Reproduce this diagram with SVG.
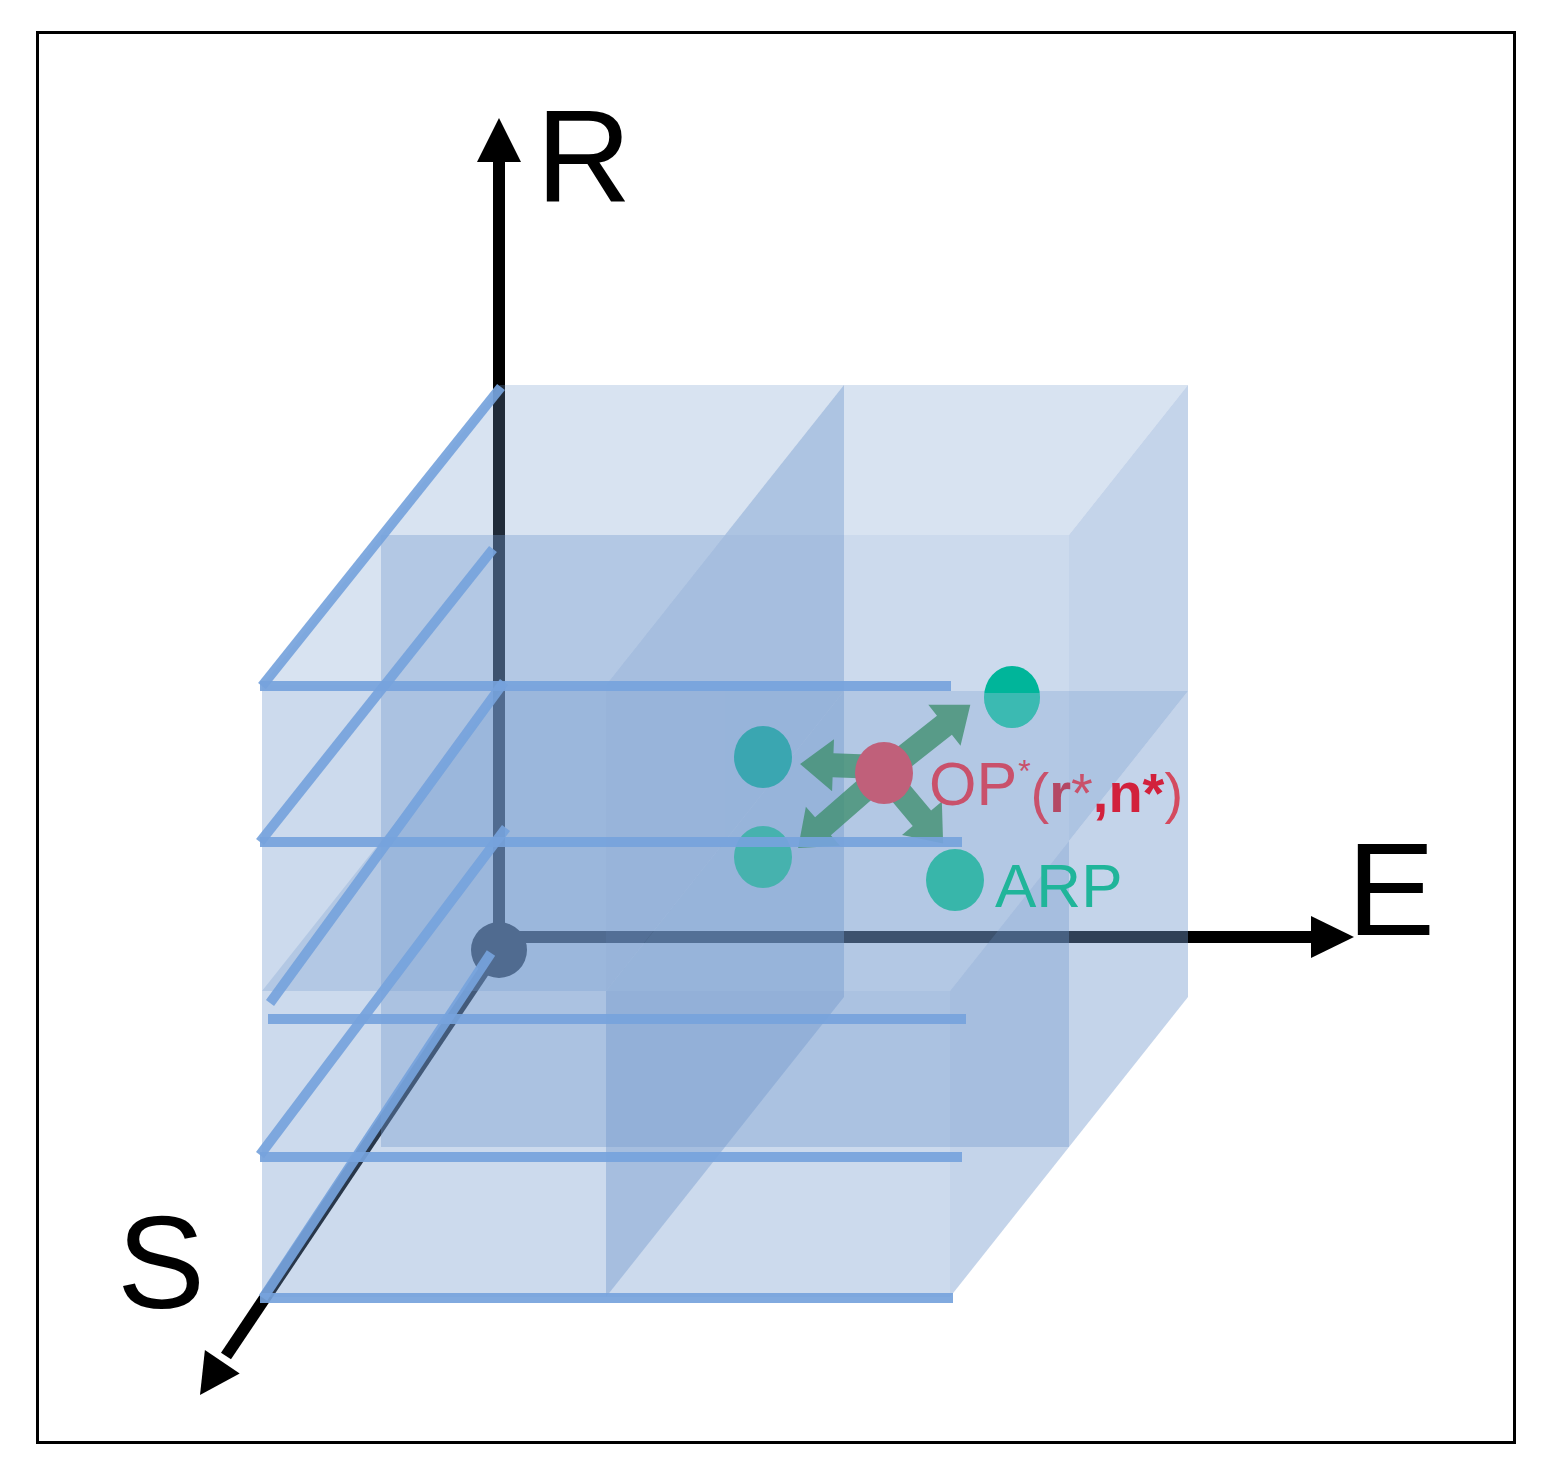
<svg xmlns="http://www.w3.org/2000/svg" width="1557" height="1481" viewBox="0 0 1557 1481">
<style>
.top{fill:#7399cd;fill-opacity:.28}
.front{fill:#7399cd;fill-opacity:.36}
.right{fill:#7399cd;fill-opacity:.42}
.grid line{stroke:#76a3dc;stroke-width:10;stroke-opacity:.92;stroke-linecap:butt}
.ax{stroke:#000;stroke-width:12}
.arr{fill:#3f8e6e;fill-opacity:.78}
.lbl{font-family:"Liberation Sans",Arial,sans-serif;fill:#000}
.pt{font-family:"Liberation Sans",Arial,sans-serif}
</style>
<defs>
<clipPath id="lowTR"><rect x="975" y="693" width="80" height="45"/></clipPath>
</defs>
<rect width="1557" height="1481" fill="#fff"/>
<rect x="37.5" y="32.5" width="1477" height="1410" fill="none" stroke="#000" stroke-width="3"/>

<g id="axes">
<line class="ax" x1="499" y1="950" x2="499" y2="158"/>
<polygon points="499,118 477,162 521,162" fill="#000"/>
<line class="ax" x1="497" y1="937" x2="1316" y2="937"/>
<polygon points="1354,937 1311,916 1311,958" fill="#000"/>
<line class="ax" x1="498" y1="950" x2="226" y2="1356"/>
<polygon points="200,1395 239.7,1373.5 204.9,1350.1" fill="#000"/>
<circle cx="499" cy="950" r="28" fill="#000"/>
</g>

<g id="cubes">
<g id="cube-back-bottom-left">
<polygon class="right" points="725,841 844,691 844,997 725,1147"/>
<polygon class="top" points="381,841 725,841 844,691 500,691"/>
<rect class="front" x="381" y="841" width="344" height="306"/>
</g>
<g id="cube-back-bottom-right">
<polygon class="right" points="1069,841 1188,691 1188,997 1069,1147"/>
<polygon class="top" points="725,841 1069,841 1188,691 844,691"/>
<rect class="front" x="725" y="841" width="344" height="306"/>
</g>
<g id="cube-back-top-left">
<polygon class="right" points="725,535 844,385 844,691 725,841"/>
<polygon class="top" points="381,535 725,535 844,385 500,385"/>
<rect class="front" x="381" y="535" width="344" height="306"/>
</g>
<g id="cube-back-top-right">
<polygon class="right" points="1069,535 1188,385 1188,691 1069,841"/>
<polygon class="top" points="725,535 1069,535 1188,385 844,385"/>
<rect class="front" x="725" y="535" width="344" height="306"/>
</g>
<g id="cube-front-bottom-left">
<polygon class="right" points="606,991 725,841 725,1147 606,1297"/>
<polygon class="top" points="262,991 606,991 725,841 381,841"/>
<rect class="front" x="262" y="991" width="344" height="306"/>
</g>
<g id="cube-front-bottom-right">
<polygon class="right" points="950,991 1069,841 1069,1147 950,1297"/>
<polygon class="top" points="606,991 950,991 1069,841 725,841"/>
<rect class="front" x="606" y="991" width="344" height="306"/>
</g>
<g id="cube-front-top-left">
<polygon class="right" points="606,685 725,535 725,841 606,991"/>
<polygon class="top" points="262,685 606,685 725,535 381,535"/>
<rect class="front" x="262" y="685" width="344" height="306"/>
</g>
</g>

<g id="connectors">
<g class="arr">
<polygon transform="translate(880,767) rotate(182.1)" points="0,-12 47,-12 47,-26 80,0 47,26 47,12 0,12"/>
<polygon transform="translate(884,773) rotate(-38.3)" points="0,-12 77,-12 77,-26 110,0 77,26 77,12 0,12"/>
<polygon transform="translate(884,773) rotate(138.9)" points="0,-12 81,-12 81,-26 114,0 81,26 81,12 0,12"/>
<polygon transform="translate(884,773) rotate(50)" points="0,-12 59,-12 59,-26 92,0 59,26 59,12 0,12"/>
</g>
</g>

<g id="points">
<g id="arp-top-right">
<ellipse cx="1012" cy="697" rx="28" ry="31" fill="#00b59a"/>
<ellipse cx="1012" cy="697" rx="28" ry="31" fill="#a8c2e0" fill-opacity=".35" clip-path="url(#lowTR)"/>
</g>
<g id="arp-left"><ellipse cx="763" cy="757" rx="29" ry="31" fill="#3aa6b1"/></g>
<g id="arp-bottom-left"><ellipse cx="763" cy="857" rx="29" ry="31" fill="#46b2ae"/></g>
<g id="arp-bottom-right"><ellipse cx="955" cy="880" rx="29" ry="31" fill="#38b6aa"/></g>
<g id="op"><ellipse cx="884" cy="773" rx="29" ry="31" fill="#c0607a"/></g>
</g>

<g class="grid" id="grid">
<line x1="260" y1="686" x2="951" y2="686"/>
<line x1="260" y1="842" x2="962" y2="842"/>
<line x1="268" y1="1019" x2="966" y2="1019"/>
<line x1="260" y1="1157" x2="962" y2="1157"/>
<line x1="260" y1="1298" x2="953" y2="1298"/>
<line x1="501" y1="387" x2="262" y2="686"/>
<line x1="493" y1="549" x2="260" y2="842"/>
<line x1="504" y1="682" x2="270" y2="1003"/>
<line x1="506" y1="828" x2="260" y2="1155"/>
<line x1="491" y1="953" x2="263" y2="1298"/>
</g>

<g id="labels">
<text class="lbl" x="536" y="202" font-size="132">R</text>
<text class="lbl" x="1347" y="935" font-size="132">E</text>
<text class="lbl" x="117" y="1308" font-size="132">S</text>
<text id="op-label" class="pt" x="929" y="805" font-size="61" fill="#c9516b">OP<tspan font-size="32" dx="1" dy="-23">*</tspan><tspan font-size="56" dy="30">(</tspan><tspan font-size="56" fill="#b44864" font-weight="bold">r</tspan><tspan font-size="56">*</tspan><tspan font-size="56" fill="#d2213c" font-weight="bold">,n*</tspan><tspan font-size="56" fill="#d44a5e">)</tspan></text>
<text id="arp-label" class="pt" x="995" y="907" font-size="62" fill="#20b59a">ARP</text>
</g>
</svg>
